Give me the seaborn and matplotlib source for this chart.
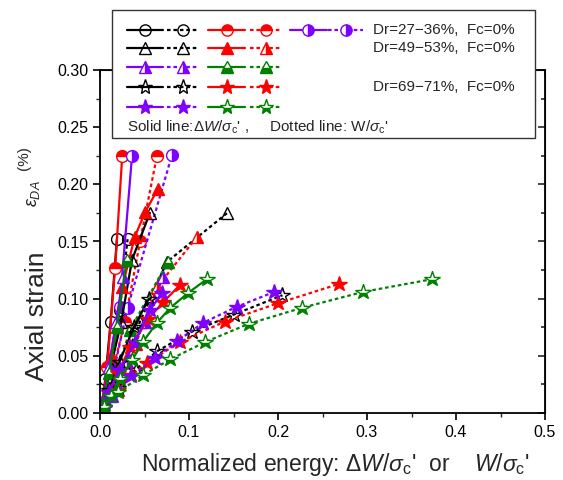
import numpy as np
import pandas as pd
import matplotlib
matplotlib.use("Agg")
import matplotlib.pyplot as plt
import seaborn as sns
from matplotlib.lines import Line2D
from matplotlib.patches import Rectangle
from matplotlib.ticker import MultipleLocator, FormatStrFormatter

# ---------------- data (normalized energy, axial strain %) ----------------
# Dr = 27-36 %
circ_black_dW_x = [0.002, 0.006, 0.012, 0.019]
circ_black_dW_y = [0.005, 0.030, 0.080, 0.152]
circ_black_W_x = [0.004, 0.012, 0.022, 0.031]
circ_black_W_y = [0.010, 0.040, 0.090, 0.152]
circ_red_dW_x = [0.002, 0.008, 0.017, 0.025]
circ_red_dW_y = [0.005, 0.040, 0.127, 0.225]
circ_red_W_x = [0.003, 0.012, 0.028, 0.045, 0.064]
circ_red_W_y = [0.005, 0.030, 0.080, 0.150, 0.225]
circ_purple_dW_x = [0.004, 0.012, 0.022, 0.036]
circ_purple_dW_y = [0.010, 0.040, 0.093, 0.225]
circ_purple_W_x = [0.005, 0.015, 0.031, 0.081]
circ_purple_W_y = [0.008, 0.035, 0.092, 0.226]
# Dr = 49-53 %
tri_black_dW_x = [0.003, 0.012, 0.024, 0.036, 0.056]
tri_black_dW_y = [0.010, 0.040, 0.080, 0.134, 0.175]
tri_black_W_x = [0.005, 0.020, 0.045, 0.075, 0.143]
tri_black_W_y = [0.005, 0.030, 0.080, 0.132, 0.175]
tri_red_dW_x = [0.003, 0.012, 0.025, 0.039, 0.051, 0.065]
tri_red_dW_y = [0.010, 0.050, 0.110, 0.154, 0.176, 0.196]
tri_red_W_x = [0.005, 0.020, 0.040, 0.064, 0.109]
tri_red_W_y = [0.004, 0.020, 0.060, 0.110, 0.154]
tri_purple_dW_x = [0.003, 0.010, 0.018, 0.026]
tri_purple_dW_y = [0.010, 0.040, 0.080, 0.119]
tri_purple_W_x = [0.003, 0.012, 0.030, 0.050, 0.071]
tri_purple_W_y = [0.003, 0.015, 0.045, 0.080, 0.119]
tri_green_dW_x = [0.003, 0.010, 0.019, 0.030]
tri_green_dW_y = [0.008, 0.035, 0.075, 0.134]
tri_green_W_x = [0.005, 0.018, 0.034, 0.076]
tri_green_W_y = [0.008, 0.035, 0.073, 0.132]
# Dr = 69-71 %
star_black_dW_x = [0.003, 0.010, 0.022, 0.038, 0.055]
star_black_dW_y = [0.005, 0.020, 0.045, 0.075, 0.100]
star_black_W_x = [0.005, 0.020, 0.040, 0.064, 0.103, 0.150, 0.205]
star_black_W_y = [0.005, 0.022, 0.038, 0.054, 0.071, 0.086, 0.103]
star_red_dW_x = [0.003, 0.010, 0.020, 0.034, 0.054, 0.071, 0.090]
star_red_dW_y = [0.005, 0.018, 0.035, 0.058, 0.082, 0.097, 0.112]
star_red_W_x = [0.005, 0.020, 0.035, 0.053, 0.090, 0.140, 0.200, 0.269]
star_red_W_y = [0.005, 0.020, 0.033, 0.044, 0.062, 0.080, 0.096, 0.113]
star_purple_dW_x = [0.003, 0.010, 0.022, 0.039, 0.056, 0.070]
star_purple_dW_y = [0.005, 0.018, 0.038, 0.061, 0.090, 0.105]
star_purple_W_x = [0.004, 0.015, 0.035, 0.062, 0.087, 0.116, 0.154, 0.196]
star_purple_W_y = [0.004, 0.015, 0.032, 0.048, 0.063, 0.079, 0.093, 0.106]
star_green_dW_x = [0.003, 0.012, 0.022, 0.036, 0.048, 0.064, 0.079, 0.099, 0.120]
star_green_dW_y = [0.005, 0.015, 0.030, 0.046, 0.062, 0.079, 0.092, 0.105, 0.117]
star_green_W_x = [0.005, 0.020, 0.048, 0.079, 0.118, 0.167, 0.227, 0.296, 0.373]
star_green_W_y = [0.005, 0.018, 0.033, 0.047, 0.062, 0.078, 0.092, 0.106, 0.117]

x_ticks = [0.0, 0.1, 0.2, 0.3, 0.4, 0.5]
y_ticks = [0.00, 0.05, 0.10, 0.15, 0.20, 0.25, 0.30]
legend_texts = ["Dr=27\u221236%,  Fc=0%", "Dr=49\u221253%,  Fc=0%", "Dr=69\u221271%,  Fc=0%"]

# ---------------- styles ----------------
BLACK, RED, PURPLE, GREEN = "#000000", "#FF0000", "#7F00FF", "#008000"
SOLID = "-"
DOT = (0, (1.6, 1.3))

series = [
    (circ_black_dW_x, circ_black_dW_y, BLACK, "o", "none", SOLID),
    (circ_black_W_x, circ_black_W_y, BLACK, "o", "none", DOT),
    (circ_red_dW_x, circ_red_dW_y, RED, "o", "top", SOLID),
    (circ_red_W_x, circ_red_W_y, RED, "o", "top", DOT),
    (circ_purple_dW_x, circ_purple_dW_y, PURPLE, "o", "right", SOLID),
    (circ_purple_W_x, circ_purple_W_y, PURPLE, "o", "right", DOT),
    (tri_black_dW_x, tri_black_dW_y, BLACK, "^", "none", SOLID),
    (tri_black_W_x, tri_black_W_y, BLACK, "^", "none", DOT),
    (tri_red_dW_x, tri_red_dW_y, RED, "^", "full", SOLID),
    (tri_red_W_x, tri_red_W_y, RED, "^", "right", DOT),
    (tri_purple_dW_x, tri_purple_dW_y, PURPLE, "^", "right", SOLID),
    (tri_purple_W_x, tri_purple_W_y, PURPLE, "^", "right", DOT),
    (tri_green_dW_x, tri_green_dW_y, GREEN, "^", "bottom", SOLID),
    (tri_green_W_x, tri_green_W_y, GREEN, "^", "bottom", DOT),
    (star_black_dW_x, star_black_dW_y, BLACK, "*", "none", SOLID),
    (star_black_W_x, star_black_W_y, BLACK, "*", "none", DOT),
    (star_red_dW_x, star_red_dW_y, RED, "*", "full", SOLID),
    (star_red_W_x, star_red_W_y, RED, "*", "full", DOT),
    (star_purple_dW_x, star_purple_dW_y, PURPLE, "*", "full", SOLID),
    (star_purple_W_x, star_purple_W_y, PURPLE, "*", "full", DOT),
    (star_green_dW_x, star_green_dW_y, GREEN, "*", "bottom", SOLID),
    (star_green_W_x, star_green_W_y, GREEN, "*", "bottom", DOT),
]

sns.set_style("ticks")
plt.rcParams["font.family"] = ["Liberation Sans", "DejaVu Sans"]
plt.rcParams["mathtext.fontset"] = "custom"
plt.rcParams["mathtext.rm"] = "Liberation Sans"
plt.rcParams["mathtext.it"] = "Liberation Sans:italic"
plt.rcParams["mathtext.bf"] = "Liberation Sans:bold"

W, H = 563, 480
fig = plt.figure(figsize=(W / 100, H / 100), dpi=100)
ax = fig.add_axes([100 / W, 1 - 413 / H, 445 / W, 343 / H])


def marker_kws(color, marker, fs, scale=1.0):
    ms = {"*": 11.5, "^": 9.0, "o": 8.5}[marker] * scale
    kw = dict(marker=marker, markersize=ms, markeredgecolor=color, markeredgewidth=1.0)
    if fs == "none":
        kw.update(markerfacecolor="none", fillstyle="none")
    elif fs == "full":
        kw.update(markerfacecolor=color, fillstyle="full")
    else:
        kw.update(markerfacecolor=color, fillstyle=fs, markerfacecoloralt="white")
    return kw


for xs, ys, c, m, fs, ls in series:
    df = pd.DataFrame({"x": xs, "y": ys})
    sns.lineplot(data=df, x="x", y="y", ax=ax, color=c, linestyle=ls,
                 linewidth=1.6, sort=False, estimator=None, legend=False,
                 **marker_kws(c, m, fs))

ax.set_xlim(0, 0.5)
ax.set_ylim(0, 0.30)
ax.set_xticks(x_ticks)
ax.set_yticks(y_ticks)
ax.xaxis.set_major_formatter(FormatStrFormatter("%.1f"))
ax.yaxis.set_major_formatter(FormatStrFormatter("%.2f"))
ax.xaxis.set_minor_locator(MultipleLocator(0.05))
ax.yaxis.set_minor_locator(MultipleLocator(0.025))
ax.tick_params(which="major", direction="out", length=5, width=1.2, labelsize=11.5, colors="black")
ax.tick_params(which="minor", direction="out", length=3, width=1.0)
ax.set_xlabel("")
ax.set_ylabel("")
for s in ax.spines.values():
    s.set_linewidth(1.3)
    s.set_color("black")

secx = ax.secondary_xaxis("top")
secx.set_xticks(x_ticks)
secx.xaxis.set_minor_locator(MultipleLocator(0.05))
secx.tick_params(which="both", direction="in", labeltop=False, length=5, width=1.2)
secx.tick_params(which="minor", length=3)
secy = ax.secondary_yaxis("right")
secy.set_yticks(y_ticks)
secy.yaxis.set_minor_locator(MultipleLocator(0.025))
secy.tick_params(which="both", direction="in", labelright=False, length=5, width=1.2)
secy.tick_params(which="minor", length=3)

# axis titles
fig.text(335 / W, 1 - 465 / H,
         r"Normalized energy: $\mathit{\Delta W/\sigma}_{\mathrm{c}}$'  or    $\mathit{W/\sigma}_{\mathrm{c}}$'",
         ha="center", va="center", fontsize=16.5)
fig.text(37 / W, 1 - 316 / H, "Axial strain", rotation=90, ha="center", va="center", fontsize=19)
fig.text(33 / W, 1 - 194 / H, r"$\mathit{\varepsilon}_{\mathit{DA}}$", rotation=90,
         ha="center", va="center", fontsize=13)
fig.text(24 / W, 1 - 158 / H, "(%)", rotation=90, ha="center", va="center", fontsize=11)

# ---------------- custom legend box ----------------
def fx(px):
    return px / W


def fy(py):
    return 1 - py / H


fig.add_artist(Rectangle((fx(112), fy(138)), fx(535) - fx(112), fy(10) - fy(138),
                         transform=fig.transFigure, facecolor="white",
                         edgecolor="#333333", linewidth=1.0, zorder=5))

col_pairs = [(127, 163, 145, 167, 198, 183), (208, 245, 227, 250, 282, 266), (290, 327, 308, 328, 363, 346)]
rows = [
    (30, [(BLACK, "o", "none"), (RED, "o", "top"), (PURPLE, "o", "right")]),
    (48, [(BLACK, "^", "none"), (RED, "^", "full")]),
    (67, [(PURPLE, "^", "right"), (GREEN, "^", "bottom")]),
    (87, [(BLACK, "*", "none"), (RED, "*", "full")]),
    (107, [(PURPLE, "*", "full"), (GREEN, "*", "bottom")]),
]
for ry, entries in rows:
    for (c, m, fs), (a0, a1, am, b0, b1, bm) in zip(entries, col_pairs):
        fig.add_artist(Line2D([fx(a0), fx(a1)], [fy(ry), fy(ry)], transform=fig.transFigure,
                              color=c, linestyle=SOLID, linewidth=1.6, zorder=6))
        fig.add_artist(Line2D([fx(am)], [fy(ry)], transform=fig.transFigure, color=c,
                              linestyle="none", zorder=7, **marker_kws(c, m, fs, 0.95)))
        fs2 = "right" if (c == RED and m == "^") else fs
        fig.add_artist(Line2D([fx(b0), fx(b1)], [fy(ry), fy(ry)], transform=fig.transFigure,
                              color=c, linestyle=DOT, linewidth=1.6, zorder=6))
        fig.add_artist(Line2D([fx(bm)], [fy(ry)], transform=fig.transFigure, color=c,
                              linestyle="none", zorder=7, **marker_kws(c, m, fs2, 0.95)))

for ty, t in zip([30, 48, 87], legend_texts):
    fig.text(fx(515), fy(ty), t, ha="right", va="center", fontsize=11, zorder=8)
fig.text(fx(127), fy(127),
         r"Solid line:$\mathit{\Delta W/\sigma}_{\mathrm{c}}$' ,     Dotted line: W/$\mathit{\sigma}_{\mathrm{c}}$'",
         ha="left", va="center", fontsize=11, zorder=8)

fig.savefig("out.png", dpi=100, facecolor="white")
